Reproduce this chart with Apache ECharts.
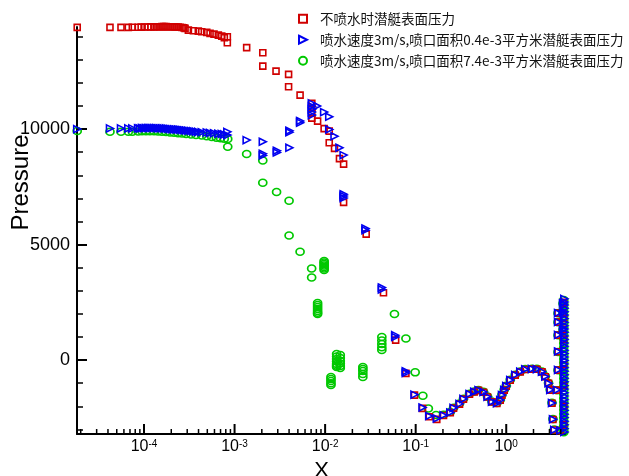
<!DOCTYPE html>
<html>
<head>
<meta charset="utf-8">
<script src="https://cdn.jsdelivr.net/npm/echarts@6.0.0/dist/echarts.min.js"></script>
<style>
  html, body { margin: 0; padding: 0; background: #fff; }
  #chart { width: 629px; height: 476px; }
</style>
</head>
<body>
<div id="chart"></div>
<script>
// 系列名称
const seriesNames = [
  '不喷水时潜艇表面压力',
  '喷水速度3m/s,喷口面积0.4e-3平方米潜艇表面压力',
  '喷水速度3m/s,喷口面积7.4e-3平方米潜艇表面压力'
];

// 不喷水 [X, Pressure]
const noJet = [
  [1.83e-5, 14403], [4.21e-5, 14403], [5.57e-5, 14403], [6.71e-5, 14403], [7.43e-5, 14410],
  [8.6e-5, 14410], [9.3e-5, 14415], [1.02e-4, 14420], [1.11e-4, 14420], [1.19e-4, 14425],
  [1.29e-4, 14425], [1.36e-4, 14430], [1.43e-4, 14430], [1.50e-4, 14430], [1.58e-4, 14435],
  [1.66e-4, 14435], [1.75e-4, 14435], [1.84e-4, 14430], [1.94e-4, 14430], [2.04e-4, 14430],
  [2.15e-4, 14425], [2.26e-4, 14420], [2.38e-4, 14420], [2.50e-4, 14410], [2.63e-4, 14400],
  [2.75e-4, 14390], [2.84e-4, 14359], [3.09e-4, 14286], [3.51e-4, 14256], [3.98e-4, 14242],
  [4.34e-4, 14212], [4.93e-4, 14186], [5.36e-4, 14143], [5.93e-4, 14113], [6.62e-4, 14069],
  [7.22e-4, 14026], [7.71e-4, 13953], [8.32e-4, 13996], [8.32e-4, 13736],
  [1.36e-3, 13528], [2.05e-3, 13303], [2.05e-3, 12727], [2.87e-3, 12511], [3.95e-3, 12368],
  [3.95e-3, 11831], [5.29e-3, 11472], [7.13e-3, 11113], [7.13e-3, 10909], [7.13e-3, 10693],
  [7.13e-3, 10476], [8.26e-3, 10346], [9.75e-3, 10022], [1.11e-2, 9913], [1.11e-2, 9407],
  [1.27e-2, 9165], [1.44e-2, 8723], [1.60e-2, 8485], [1.60e-2, 6827], [2.84e-2, 5454],
  [4.41e-2, 2913], [6.01e-2, 866], [7.8e-2, -576], [9.7e-2, -1515], [0.119, -2091],
  [0.141, -2455], [0.171, -2567],
  [0.203, -2400], [0.241, -2280], [0.262, -2080], [0.305, -1905], [0.337, -1690],
  [0.393, -1480], [0.443, -1380], [0.494, -1310], [0.561, -1390], [0.621, -1600],
  [0.695, -1810], [0.789, -1880], [0.858, -1740], [0.897, -1520], [0.950, -1300],
  [1.0, -1130], [1.107, -870], [1.257, -650], [1.428, -510], [1.62, -410],
  [1.92, -390], [2.18, -400], [2.48, -510], [2.70, -720], [2.93, -1010],
  [3.06, -1300], [3.20, -1870], [3.28, -2570], [3.39, -3030], [3.95, -3060],
  [3.73, 2034], [3.73, 1645], [3.73, 1082], [3.73, 361], [3.73, -433], [3.63, -1299],
  [4.23, 2455], [4.23, 2048], [4.23, 1329],
  [4.30, 2500], [4.30, 1800], [4.30, 900], [4.30, -200], [4.30, -1100], [4.30, -2000], [4.30, -2800]
];

// 喷口面积0.4e-3
const jetSmall = [
  [1.83e-5, 10000], [4.21e-5, 10030], [5.57e-5, 10030], [6.71e-5, 10030], [7.43e-5, 10030],
  [8.6e-5, 10040], [9.0e-5, 10030], [9.5e-5, 10045], [1.0e-4, 10040], [1.05e-4, 10050],
  [1.11e-4, 10045], [1.16e-4, 10050], [1.22e-4, 10045], [1.29e-4, 10050], [1.36e-4, 10045],
  [1.43e-4, 10040], [1.50e-4, 10040], [1.58e-4, 10035], [1.66e-4, 10030], [1.75e-4, 10030],
  [1.84e-4, 10020], [1.94e-4, 10010], [2.04e-4, 10000], [2.15e-4, 9990], [2.26e-4, 9985],
  [2.38e-4, 9980], [2.50e-4, 9970], [2.63e-4, 9960], [2.77e-4, 9950], [2.92e-4, 9940],
  [3.09e-4, 9930], [3.3e-4, 9915], [3.51e-4, 9905], [3.75e-4, 9890], [3.98e-4, 9880],
  [4.34e-4, 9865], [4.93e-4, 9850], [5.36e-4, 9835], [5.93e-4, 9820], [6.62e-4, 9800],
  [7.22e-4, 9785], [7.71e-4, 9770], [8.32e-4, 9880], [8.32e-4, 9740],
  [1.36e-3, 9524], [2.05e-3, 9450], [2.05e-3, 8930], [2.05e-3, 8860], [2.93e-3, 9060],
  [2.93e-3, 8990], [4.03e-3, 9190], [4.03e-3, 9930], [4.03e-3, 9860], [5.29e-3, 10350],
  [5.29e-3, 10280], [7.13e-3, 11113], [7.13e-3, 10990], [7.13e-3, 10860], [7.13e-3, 10736],
  [7.13e-3, 10606], [8.14e-3, 10996], [9.75e-3, 10736], [1.11e-2, 10532], [1.11e-2, 9987],
  [1.27e-2, 9688], [1.44e-2, 9190], [1.60e-2, 8874], [1.60e-2, 7180], [1.60e-2, 7100],
  [1.60e-2, 7020], [2.79e-2, 5700], [2.79e-2, 5620], [4.23e-2, 3140], [4.23e-2, 3060],
  [5.94e-2, 1080], [5.94e-2, 1000], [7.76e-2, -480], [7.76e-2, -560], [9.7e-2, -1494],
  [0.119, -2056], [0.141, -2424], [0.171, -2532],
  [0.203, -2390], [0.241, -2270], [0.262, -2070], [0.305, -1895], [0.337, -1680],
  [0.393, -1470], [0.443, -1370], [0.494, -1300], [0.561, -1380], [0.621, -1590],
  [0.695, -1800], [0.789, -1870], [0.858, -1730], [0.897, -1510], [0.950, -1290],
  [1.0, -1120], [1.107, -860], [1.257, -640], [1.428, -500], [1.62, -400],
  [1.92, -380], [2.18, -390], [2.48, -500], [2.70, -710], [2.93, -1000],
  [3.06, -1290], [3.20, -1860], [3.28, -2560], [3.39, -3020], [3.95, -3050],
  [3.73, 2040], [3.73, 1650], [3.73, 1090], [3.73, 370], [3.73, -425], [3.63, -1290],
  [4.23, 2460], [4.23, 2050], [4.23, 1335],
  [4.38, 2650], [4.38, 2520], [4.38, 2380], [4.38, 2240], [4.38, 2090], [4.38, 1950],
  [4.38, 1800], [4.38, 1640], [4.38, 1490], [4.38, 1350], [4.38, 1200], [4.38, 1040],
  [4.38, 890], [4.38, 740], [4.38, 600], [4.38, 430], [4.38, 280], [4.38, 130],
  [4.38, -20], [4.38, -170], [4.38, -330], [4.38, -480], [4.38, -640], [4.38, -790],
  [4.38, -940], [4.38, -1100], [4.38, -1250], [4.38, -1410], [4.38, -1560], [4.38, -1720],
  [4.38, -1870], [4.38, -2030], [4.38, -2180], [4.38, -2340], [4.38, -2490], [4.38, -2650],
  [4.38, -2800], [4.38, -2960], [4.38, -3110]
];

// 喷口面积7.4e-3
const jetLarge = [
  [1.83e-5, 9913], [4.21e-5, 9883], [5.57e-5, 9883], [6.71e-5, 9883], [7.43e-5, 9883],
  [8.6e-5, 9900], [9.5e-5, 9905], [1.05e-4, 9910], [1.16e-4, 9910], [1.29e-4, 9905],
  [1.43e-4, 9900], [1.58e-4, 9890], [1.75e-4, 9870], [1.94e-4, 9855], [2.15e-4, 9840],
  [2.38e-4, 9825], [2.63e-4, 9810], [2.92e-4, 9790], [3.3e-4, 9770], [3.75e-4, 9745],
  [4.34e-4, 9720], [4.93e-4, 9690], [5.6e-4, 9660], [6.3e-4, 9630], [7.0e-4, 9600],
  [7.7e-4, 9580], [8.41e-4, 9567], [8.41e-4, 9234],
  [1.36e-3, 8918], [2.05e-3, 8636], [2.05e-3, 7675], [2.91e-3, 7273], [4.0e-3, 6896],
  [4.0e-3, 5390], [5.29e-3, 4688], [7.1e-3, 3970], [7.1e-3, 3571], [9.75e-3, 4286],
  [9.75e-3, 4220], [9.75e-3, 4156], [9.75e-3, 4090], [9.75e-3, 4026], [9.75e-3, 3960],
  [9.75e-3, 3896], [8.26e-3, 2467], [8.26e-3, 2380], [8.26e-3, 2294], [8.26e-3, 2210],
  [8.26e-3, 2121], [8.26e-3, 2050], [8.26e-3, 1991], [1.34e-2, 260], [1.34e-2, 150],
  [1.34e-2, 43], [1.34e-2, -60], [1.34e-2, -173], [1.34e-2, -240], [1.34e-2, -303],
  [1.47e-2, 216], [1.47e-2, 90], [1.47e-2, -43], [1.47e-2, -150], [1.47e-2, -260],
  [1.47e-2, -346], [1.16e-2, -736], [1.16e-2, -820], [1.16e-2, -909], [1.16e-2, -1000],
  [1.16e-2, -1082], [2.61e-2, -303], [2.61e-2, -390], [2.61e-2, -476], [2.61e-2, -600],
  [2.61e-2, -736], [4.23e-2, 996], [4.23e-2, 850], [4.23e-2, 693], [4.23e-2, 560],
  [4.23e-2, 433], [5.83e-2, 1991],
  [7.8e-2, 939], [9.87e-2, -532], [0.120, -1545], [0.138, -2091], [0.168, -2381],
  [0.203, -2370], [0.241, -2250], [0.262, -2060], [0.305, -1880], [0.337, -1670],
  [0.393, -1460], [0.443, -1360], [0.494, -1290], [0.561, -1370], [0.621, -1580],
  [0.695, -1790], [0.789, -1860], [0.858, -1720], [0.897, -1500], [0.950, -1280],
  [1.0, -1110], [1.107, -850], [1.257, -630], [1.428, -490], [1.62, -390],
  [1.92, -370], [2.18, -380], [2.48, -490], [2.70, -700], [2.93, -990],
  [3.06, -1280], [3.20, -1850], [3.28, -2550], [3.39, -3010], [3.95, -3040],
  [3.73, 2030], [3.73, 1640], [3.73, 1075], [3.73, 355], [3.73, -440], [3.63, -1305],
  [4.23, 2450], [4.23, 2040], [4.23, 1320],
  [4.32, 2600], [4.32, 2430], [4.32, 2260], [4.32, 2090], [4.32, 1920], [4.32, 1750],
  [4.32, 1580], [4.32, 1410], [4.32, 1240], [4.32, 1070], [4.32, 900], [4.32, 730],
  [4.32, 560], [4.32, 390], [4.32, 220], [4.32, 50], [4.32, -120], [4.32, -290],
  [4.32, -460], [4.32, -630], [4.32, -800], [4.32, -970], [4.32, -1140], [4.32, -1310],
  [4.32, -1480], [4.32, -1650], [4.32, -1820], [4.32, -1990], [4.32, -2160], [4.32, -2330],
  [4.32, -2500], [4.32, -2670], [4.32, -2840], [4.32, -3010], [4.32, -3120]
];

// 刻度
const xMajorTicks = [1e-4, 1e-3, 1e-2, 1e-1, 1];
const xMinorTicks = [
  2e-5, 3e-5, 4e-5, 5e-5, 6e-5, 7e-5, 8e-5, 9e-5,
  2e-4, 3e-4, 4e-4, 5e-4, 6e-4, 7e-4, 8e-4, 9e-4,
  2e-3, 3e-3, 4e-3, 5e-3, 6e-3, 7e-3, 8e-3, 9e-3,
  2e-2, 3e-2, 4e-2, 5e-2, 6e-2, 7e-2, 8e-2, 9e-2,
  0.2, 0.3, 0.4, 0.5, 0.6, 0.7, 0.8, 0.9,
  2, 3, 4
];
const yMajorTicks = [0, 5000, 10000];
const yMinorTicks = [-3000, -2000, -1000, 0, 1000, 2000, 3000, 4000, 5000, 6000, 7000,
  8000, 9000, 10000, 11000, 12000, 13000, 14000];

const xMin = 1.82e-5, xMax = 4.57;
const yMin = -3200, yMax = 14420;

// 向右的三角形
const rightTriangle = 'path://M0,0L10,5L0,10Z';

const chart = echarts.init(document.getElementById('chart'), null, { renderer: 'canvas' });

function scatter(name, data, symbol, size, color) {
  return {
    name: name,
    type: 'scatter',
    data: data,
    symbol: symbol,
    symbolSize: size,
    clip: false,
    itemStyle: { color: 'rgba(0,0,0,0)', borderColor: color, borderWidth: 1.6, opacity: 1 },
    emphasis: { disabled: true }
  };
}

function tickSeries(values, len, width) {
  return {
    type: 'custom',
    silent: true,
    clip: false,
    z: 5,
    data: values.map(v => [v, yMin]),
    renderItem: (params, api) => {
      const p = api.coord([api.value(0), api.value(1)]);
      return {
        type: 'line',
        shape: { x1: p[0], y1: p[1], x2: p[0], y2: p[1] - len },
        style: { stroke: '#000', lineWidth: width }
      };
    }
  };
}

const option = {
  animation: false,
  backgroundColor: '#fff',
  grid: { left: 77, right: 63, top: 27, bottom: 42, containLabel: false, outerBoundsMode: 'none' },
  legend: {
    orient: 'vertical',
    left: 293,
    top: 7,
    itemGap: 7.5,
    itemWidth: 8,
    itemHeight: 8,
    selectedMode: false,
    data: seriesNames,
    textStyle: { fontFamily: 'Noto Sans CJK SC', fontSize: 13.5, color: '#111', padding: [0, 0, 0, 8] }
  },
  xAxis: {
    type: 'log',
    logBase: 10,
    min: xMin,
    max: xMax,
    name: 'X',
    nameLocation: 'middle',
    nameGap: 22,
    nameTextStyle: { fontFamily: 'Liberation Sans', fontSize: 22, color: '#000' },
    axisLine: { onZero: false, lineStyle: { color: '#000', width: 2 } },
    axisTick: { show: false },
    splitLine: { show: false },
    axisLabel: {
      margin: 5,
      showMinLabel: false,
      showMaxLabel: false,
      formatter: (v) => {
        const e = Math.log10(v);
        const r = Math.round(e);
        if (Math.abs(e - r) > 1e-6) return '';
        return '{b|10}{s|' + r + '}';
      },
      rich: {
        b: { fontFamily: 'Liberation Sans', fontSize: 16, color: '#000' },
        s: { fontFamily: 'Liberation Sans', fontSize: 10, color: '#000', verticalAlign: 'top' }
      }
    }
  },
  yAxis: [
    {
      type: 'value',
      min: yMin,
      max: yMax,
      axisLine: { show: true, onZero: false, lineStyle: { color: '#000', width: 2 } },
      axisTick: { show: true, inside: true, length: 10, customValues: yMajorTicks, lineStyle: { color: '#000', width: 2 } },
      axisLabel: {
        customValues: yMajorTicks, margin: 7, fontFamily: 'Liberation Sans', fontSize: 18, color: '#000',
        formatter: (v) => String(v)
      },
      splitLine: { show: false }
    },
    {
      type: 'value',
      min: yMin,
      max: yMax,
      position: 'left',
      offset: 0,
      name: 'Pressure',
      nameLocation: 'middle',
      nameGap: 44,
      nameMoveOverlap: false,
      nameTextStyle: { fontFamily: 'Liberation Sans', fontSize: 24, color: '#000', padding: [0, 0, 0, 96] },
      axisLine: { show: false },
      axisTick: { show: true, inside: true, length: 6, customValues: yMinorTicks, lineStyle: { color: '#000', width: 1.5 } },
      axisLabel: { show: false },
      splitLine: { show: false }
    }
  ],
  series: [
    scatter(seriesNames[2], jetLarge, 'circle', [8, 7], '#00c800'),
    scatter(seriesNames[0], noJet, 'rect', 6, '#d00000'),
    scatter(seriesNames[1], jetSmall, rightTriangle, [7, 7], '#0000f0'),
    tickSeries(xMajorTicks, 10, 2),
    tickSeries(xMinorTicks, 5, 1.5)
  ]
};

chart.setOption(option);
</script>
</body>
</html>
